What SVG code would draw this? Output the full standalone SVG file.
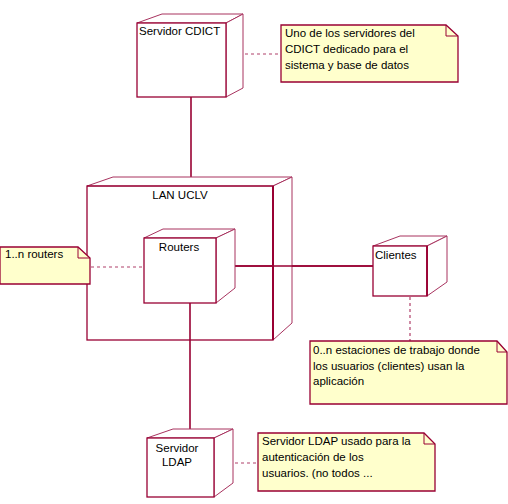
<svg xmlns="http://www.w3.org/2000/svg" width="508" height="504" viewBox="0 0 508 504">
<style>
.face{fill:#ffffff;stroke:#a8335f;stroke-width:1;stroke-linejoin:miter}
.front{fill:#ffffff;stroke:#990033;stroke-width:1.3}
.note{fill:#ffffcc;stroke:#990033;stroke-width:1.3}
.fold{fill:none;stroke:#990033;stroke-width:1}
.link{stroke:#990033;stroke-width:1.6;fill:none}
.dash{stroke:#b0406a;stroke-width:1.2;stroke-dasharray:3,3;fill:none}
text{font-family:"Liberation Sans",Arial,sans-serif;font-size:11.5px;fill:#000}
</style>
<rect width="508" height="504" fill="#ffffff"/>
<g id="connectors">
<line class="link" x1="191" y1="97" x2="191" y2="177"/>
<line class="link" x1="216" y1="266" x2="373" y2="266"/>
<line class="link" x1="190" y1="303" x2="190" y2="429"/>
<line class="dash" x1="245" y1="54" x2="281" y2="54"/>
<line class="dash" x1="91" y1="267" x2="142" y2="267"/>
<line class="dash" x1="410" y1="297" x2="410" y2="341"/>
<line class="dash" x1="235" y1="463" x2="257" y2="463"/>
</g>
<g id="lan">
<polygon class="face" points="87,186 113,177 292,177 273,186"/>
<polygon class="face" points="273,186 292,177 292,323 273,340"/>
<rect class="front" x="87" y="186" width="186" height="154" fill="none" style="fill:none"/>
<line x1="273" y1="186" x2="273" y2="340" stroke="#990033" stroke-width="2"/>
<text x="180" y="199" text-anchor="middle">LAN UCLV</text>
</g>
<line class="link" x1="216" y1="266" x2="373" y2="266"/>
<g id="cdict">
<polygon class="face" points="137,23 162,14 243,14 226,23"/>
<polygon class="face" points="226,23 243,14 243,88 226,97"/>
<rect class="front" x="137" y="23" width="89" height="74"/>
<text x="139" y="35">Servidor CDICT</text>
</g>
<g id="routers">
<polygon class="face" points="144,238 163,229 235,229 216,238"/>
<polygon class="face" points="216,238 235,229 235,288 216,303"/>
<rect class="front" x="144" y="238" width="72" height="65"/>
<text x="179" y="251" text-anchor="middle">Routers</text>
</g>
<g id="clientes">
<polygon class="face" points="373,246 400,236 447,236 427,246"/>
<polygon class="face" points="427,246 447,236 447,282 427,296"/>
<rect class="front" x="373" y="246" width="54" height="50"/>
<line x1="427" y1="246" x2="427" y2="296" stroke="#990033" stroke-width="1.8"/>
<text x="375" y="259">Clientes</text>
</g>
<g id="ldap">
<polygon class="face" points="147,438 173,429 233,429 214,438"/>
<polygon class="face" points="214,438 233,429 233,483 214,497"/>
<rect class="front" x="147" y="438" width="67" height="59"/>
<text x="177" y="452" text-anchor="middle">Servidor</text>
<text x="177" y="466" text-anchor="middle">LDAP</text>
</g>
<g id="note-cdict">
<path class="note" d="M281,25 H446 L458,36 V82 H281 Z"/>
<path class="fold" d="M446,25 V36 H458"/>
<text x="285" y="37">Uno de los servidores del</text>
<text x="285" y="53">CDICT dedicado para el</text>
<text x="285" y="69">sistema y base de datos</text>
</g>
<g id="note-routers">
<path class="note" d="M0,247 H78 L90,258 V284 H0 Z"/>
<path class="fold" d="M78,247 V258 H90"/>
<text x="5" y="258">1..n routers</text>
</g>
<g id="note-clientes">
<path class="note" d="M310,341 H497 L507,352 V404 H310 Z"/>
<path class="fold" d="M497,341 V352 H507"/>
<text x="313" y="354">0..n estaciones de trabajo donde</text>
<text x="313" y="370">los usuarios (clientes) usan la</text>
<text x="313" y="385">aplicación</text>
</g>
<g id="note-ldap">
<path class="note" d="M258,433 H424 L435,444 V491 H258 Z"/>
<path class="fold" d="M424,433 V444 H435"/>
<text x="262" y="445">Servidor LDAP usado para la</text>
<text x="262" y="461">autenticación de los</text>
<text x="262" y="477">usuarios. (no todos ...</text>
</g>
</svg>
